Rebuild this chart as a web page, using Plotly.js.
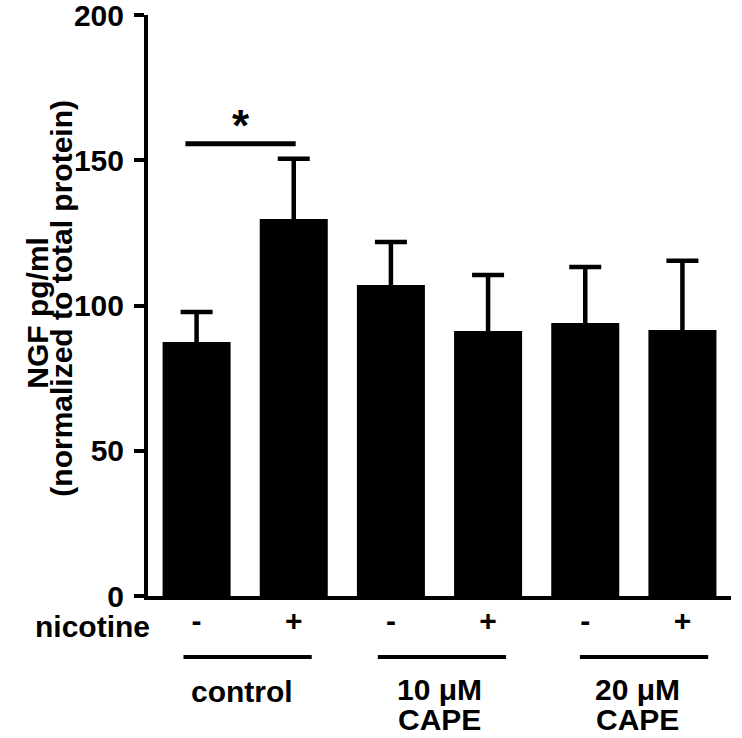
<!DOCTYPE html>
<html>
<head>
<meta charset="utf-8">
<script src="https://cdn.plot.ly/plotly-3.0.1.min.js"></script>
<style>html,body{margin:0;padding:0;background:#fff;}</style>
</head>
<body>
<div id="chart" style="width:742px;height:738px;"></div>
<script>
// ---- data ----
const categories = ['control-', 'control+', '10uM-', '10uM+', '20uM-', '20uM+'];
const nicotineLabels = ['-', '+', '-', '+', '-', '+'];
const means = [87.4, 129.8, 107.1, 91.2, 94.0, 91.6];
const errors = [10.4, 20.7, 14.8, 19.3, 19.3, 23.8];
const groupLabels = [['control'], ['10 \u03bcM', 'CAPE'], ['20 \u03bcM', 'CAPE']];
const yTicks = [0, 50, 100, 150, 200];
const sigPair = [0, 1];
const sigLevel = 155.7;

const FONT = '"Liberation Sans", Arial, Helvetica, sans-serif';
const bold = (size) => ({family: FONT, size: size, weight: 700, color: '#000'});

const trace = {
  type: 'bar',
  x: categories,
  y: means,
  width: 0.7,
  marker: {color: '#000', line: {width: 0}},
  error_y: {
    type: 'data',
    array: errors,
    color: '#000',
    thickness: 4.5,
    width: 16
  },
  hoverinfo: 'skip'
};

const shapes = [];
const annotations = [];

// significance bar
shapes.push({type: 'line', xref: 'x', yref: 'y',
  x0: sigPair[0] - 0.115, x1: sigPair[1] + 0.02, y0: sigLevel, y1: sigLevel,
  line: {color: '#000', width: 5}});
annotations.push({xref: 'x', yref: 'y', x: (sigPair[0] + sigPair[1]) / 2 - 0.04, y: sigLevel,
  text: '*', showarrow: false, yanchor: 'bottom', yshift: -8,
  font: bold(44)});

// group lines and labels
const lineCenters = [-0.161, -0.213];
groupLabels.forEach((lines, g) => {
  const a = 2 * g, b = 2 * g + 1;
  const extra = g === 2 ? 0.08 : 0;
  shapes.push({type: 'line', xref: 'x', yref: 'paper',
    x0: a - 0.135 + extra, x1: b + 0.185 + extra, y0: -0.105, y1: -0.105,
    line: {color: '#000', width: 4}});
  lines.forEach((txt, k) => {
    annotations.push({xref: 'x', yref: 'paper', x: (a + b) / 2 + extra / 2 + (g === 0 ? -0.03 : 0),
      y: lineCenters[k] + (g === 0 ? -0.003 : 0), yanchor: 'middle', text: txt, showarrow: false,
      font: bold(30)});
  });
});

// nicotine label
annotations.push({xref: 'paper', yref: 'paper', x: 0, y: -0.052, xanchor: 'right', yanchor: 'middle',
  xshift: 4, text: 'nicotine', showarrow: false, font: bold(30)});

// y title (two lines, tight spacing)
annotations.push({xref: 'paper', yref: 'paper', x: -0.19, y: 0.488, xanchor: 'center', yanchor: 'middle',
  text: 'NGF pg/ml', textangle: -90, showarrow: false, font: bold(30)});
annotations.push({xref: 'paper', yref: 'paper', x: -0.149, y: 0.512, xanchor: 'center', yanchor: 'middle',
  text: '(normalized to total protein)', textangle: -90, showarrow: false, font: bold(30)});

const layout = {
  width: 742, height: 738,
  margin: {l: 148, r: 11, t: 15, b: 142},
  paper_bgcolor: '#fff', plot_bgcolor: '#fff',
  showlegend: false,
  font: bold(30),
  xaxis: {
    type: 'category',
    range: [-0.5, 5.5],
    tickvals: categories,
    ticktext: nicotineLabels,
    showline: true, linecolor: '#000', linewidth: 4,
    ticks: '', showgrid: false, zeroline: false,
    ticklabelstandoff: -5,
    tickfont: bold(30),
    fixedrange: true
  },
  yaxis: {
    range: [0, 200.01],
    tickvals: yTicks,
    showline: true, linecolor: '#000', linewidth: 4,
    ticks: 'outside', ticklen: 10, tickwidth: 4, tickcolor: '#000',
    ticklabelstandoff: 4,
    ticklabeloverflow: 'allow',
    showgrid: false, zeroline: false,
    tickfont: bold(30),
    fixedrange: true
  },
  shapes: shapes,
  annotations: annotations
};

Plotly.newPlot('chart', [trace], layout, {displayModeBar: false, staticPlot: true});
</script>
</body>
</html>
